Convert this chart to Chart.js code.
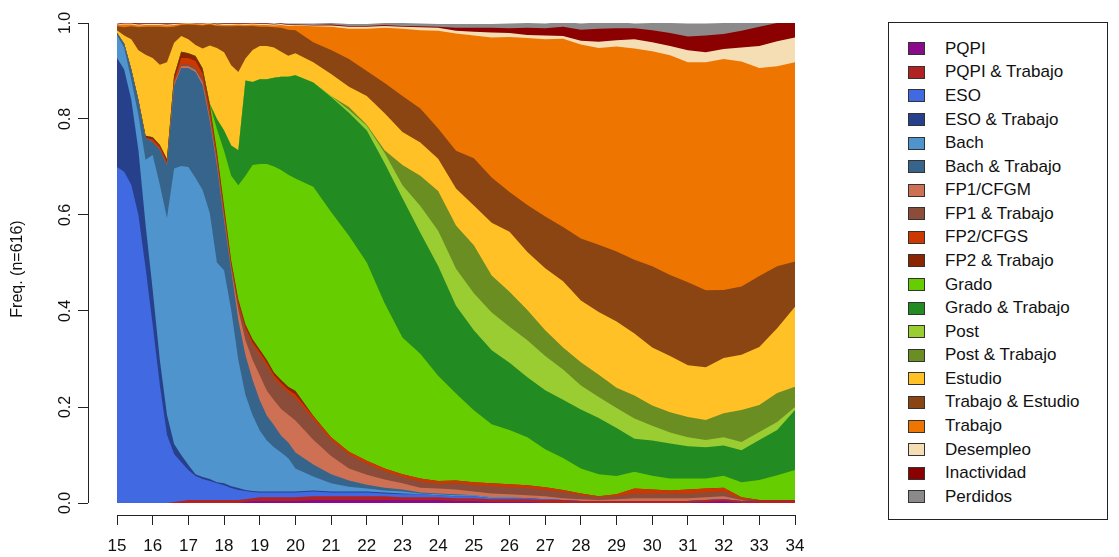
<!DOCTYPE html>
<html>
<head>
<meta charset="utf-8">
<title>Distribución de estados</title>
<script src="https://cdn.jsdelivr.net/npm/chart.js@4.4.0/dist/chart.umd.min.js"></script>
<style>
  body { margin: 0; background: #fff; font-family: "Liberation Sans", Arial, sans-serif; }
  #wrap { position: relative; width: 1119px; height: 557px; }
  #plot { position: absolute; left: 0; top: 0; width: 825px; height: 557px; }
  #legend {
    position: absolute; left: 888px; top: 22px; width: 220px; height: 498px;
    box-sizing: border-box; border: 1px solid #222; padding-top: 14px;
  }
  #legend .item { display: flex; align-items: center; height: 23.58px; font-size: 17px; color: #111; }
  #legend .sw { width: 17px; height: 13px; margin-left: 19px; margin-right: 20px; box-sizing: border-box; border: 1px solid #333; }
</style>
</head>
<body>
<div id="wrap">
  <div id="plot"><canvas id="c"></canvas></div>
  <div id="legend"></div>
</div>
<script>
// edad (años), de 15 a 34
const ages = [15, 15.2, 15.4, 15.6, 15.8, 16, 16.2, 16.4, 16.6, 16.8,
  17, 17.2, 17.4, 17.6, 17.8, 18, 18.2, 18.4, 18.6, 18.8,
  19, 19.2, 19.4, 19.6, 19.8, 20, 20.5, 21, 21.5, 22,
  22.5, 23, 23.5, 24, 24.5, 25, 25.5, 26, 26.5, 27,
  27.5, 28, 28.5, 29, 29.5, 30, 30.5, 31, 31.5, 32,
  32.5, 33, 33.5, 34];

const states = ["PQPI", "PQPI & Trabajo", "ESO", "ESO & Trabajo", "Bach", "Bach & Trabajo",
  "FP1/CFGM", "FP1 & Trabajo", "FP2/CFGS", "FP2 & Trabajo", "Grado", "Grado & Trabajo",
  "Post", "Post & Trabajo", "Estudio", "Trabajo & Estudio", "Trabajo", "Desempleo",
  "Inactividad", "Perdidos"];

const colors = ["#8B0A8B", "#B22222", "#4169E1", "#27408B", "#4F94CD", "#36648B",
  "#CD7054", "#8B4C39", "#CD3700", "#8B2500", "#66CD00", "#228B22",
  "#9ACD32", "#6B8E23", "#FFC125", "#8B4513", "#EE7600", "#F5DEB3",
  "#8B0000", "#8B8989"];

// proporción de cada estado en cada edad
const pqpi = [0,0,0,0,0,0,0,0,0,0, 0,0,0,0,0,0,0,0,.002,.004,
  .004,.004,.004,.004,.004,.004,.006,.006,.006,.006, .006,.006,.006,.006,.004,.004,.002,.002,.002,0,
  0,0,0,0,0,0,0,0,.002,.004, 0,0,0,0];
const pqpiTrab = [0,0,0,0,0,0,0,0,.002,.004, .006,.006,.006,.006,.006,.006,.006,.006,.006,.006,
  .008,.008,.008,.008,.008,.008,.008,.008,.008,.008, .008,.006,.006,.006,.006,.006,.006,.006,.006,.006,
  .006,.004,.004,.004,.004,.004,.004,.004,.004,.004, .004,.006,.006,.006];
const eso = [.700,.690,.663,.600,.490,.371,.246,.142,.100,.081, .063,.050,.044,.040,.035,.031,.025,.021,.017,.013,
  .010,.010,.010,.010,.010,.010,.010,.008,.008,.008, .006,.006,.006,.004,.004,.004,.002,.002,.002,.002,
  0,0,0,0,0,0,0,0,0,0, 0,0,0,0];
const esoTrab = [.227,.213,.177,.135,.090,.073,.052,.042,.021,.015, .010,.004,.004,.004,.002,.004,.004,.004,.002,.002,
  .002,.002,.002,.002,.002,.002,.002,.002,.002,.002, .002,.002,0,0,0,0,0,0,0,0,
  0,0,0,0,0,0,0,0,0,0, 0,0,0,0];
const bach = [.048,.046,.042,.073,.135,.281,.365,.410,.574,.602, .621,.617,.598,.554,.458,.444,.367,.267,.198,.158,
  .127,.106,.092,.081,.069,.048,.029,.017,.010,.006, .004,.004,.002,.002,.002,.002,.002,.002,0,0,
  0,0,0,0,0,0,0,0,0,0, 0,0,0,0];
const bachTrab = [.004,.008,.021,.031,.046,.027,.073,.110,.173,.204, .206,.221,.219,.192,.202,.104,.083,.083,.083,.073,
  .063,.052,.046,.035,.033,.033,.025,.019,.013,.008, .006,.004,.002,.002,.002,0,0,0,0,0,
  0,0,0,0,0,0,0,0,0,0, 0,0,0,0];
const fp1 = [0,0,0,0,0,0,0,0,.004,.004, .004,.004,.006,.006,.006,.006,.004,.021,.031,.042,
  .052,.052,.052,.056,.058,.067,.052,.038,.025,.021, .017,.013,.010,.010,.010,.008,.008,.006,.006,.006,
  .004,.004,.002,.004,.006,.006,.006,.006,.006,.006, .002,0,0,0];
const fp1Trab = [0,0,0,0,0,0,0,0,0,.004, .004,.006,.008,.008,.008,.006,.004,.010,.021,.031,
  .042,.052,.046,.048,.046,.046,.042,.033,.029,.023, .017,.013,.013,.010,.013,.013,.015,.015,.015,.013,
  .013,.008,.006,.006,.010,.010,.010,.010,.010,.010, .002,0,0,0];
const fp2 = [0,0,0,0,0,.006,.006,.006,.008,.013, .013,.013,.010,.010,.008,.008,.006,.006,.006,.006,
  .006,.006,.006,.006,.006,.008,.006,.006,.006,.006, .006,.006,.006,.006,.006,.006,.006,.006,.006,.006,
  .004,.004,.002,.004,.010,.008,.006,.008,.008,.008, .004,0,0,0];
const fp2Trab = [0,0,0,0,.004,.004,.004,.006,.008,.013, .010,.010,.010,.010,.008,.010,.006,.006,.006,.006,
  .006,.006,.006,.006,.006,.008,.002,0,0,0, 0,0,0,0,0,0,0,0,0,0,
  0,0,0,0,0,0,0,0,0,0, 0,0,0,0];
const grado = [0,0,0,0,0,0,0,0,0,0, 0,0,0,.002,.046,.115,.177,.238,.310,.363,
  .386,.408,.429,.438,.442,.442,.477,.469,.450,.413, .344,.285,.260,.219,.181,.150,.123,.113,.100,.079,
  .067,.052,.046,.038,.035,.029,.025,.023,.021,.025, .031,.042,.052,.063];
const gradoTrab = [0,0,0,0,0,0,0,0,0,0, 0,0,0,0,.021,.042,.063,.073,.198,.173,
  .177,.177,.185,.194,.204,.215,.217,.240,.256,.275, .292,.290,.252,.229,.183,.167,.154,.140,.125,.123,
  .121,.123,.117,.100,.069,.073,.073,.067,.065,.063, .067,.083,.094,.125];
const post = [0,0,0,0,0,0,0,0,0,0, 0,0,0,0,0,0,0,0,0,0,
  0,0,0,0,0,0,0,.002,.006,.010, .021,.027,.056,.073,.077,.077,.079,.075,.077,.071,
  .063,.050,.044,.042,.042,.031,.023,.019,.015,.017, .017,.017,.017,.006];
const postTrab = [0,0,0,0,0,0,0,0,0,0, 0,0,0,0,0,0,0,0,0,0,
  0,0,0,0,0,0,0,0,.006,.002, .006,.042,.063,.083,.090,.100,.077,.073,.063,.054,
  .046,.048,.046,.042,.048,.042,.042,.042,.042,.050, .067,.056,.060,.042];
const estudio = [.006,.017,.063,.104,.169,.165,.167,.202,.069,.033, .029,.023,.042,.121,.148,.163,.167,.163,.046,.067,
  .069,.069,.063,.052,.044,.046,.042,.046,.042,.060, .077,.069,.069,.067,.077,.083,.110,.125,.121,.129,
  .138,.129,.131,.138,.129,.121,.117,.108,.110,.115, .115,.121,.135,.167];
const trabEstudio = [.008,.017,.027,.048,.058,.065,.079,.073,.033,.023, .031,.042,.048,.044,.046,.054,.081,.096,.067,.050,
  .040,.040,.042,.050,.054,.048,.042,.050,.058,.052, .063,.075,.071,.063,.079,.098,.094,.083,.098,.108,
  .113,.129,.140,.146,.154,.169,.169,.173,.160,.142, .142,.148,.129,.094];
const trabajo = [.003,.006,.004,.004,.004,.004,.004,.004,.004,.002, .002,.002,.002,.002,.002,.003,.003,.003,.003,.003,
  .004,.004,.004,.006,.008,.010,.033,.048,.063,.088, .115,.140,.163,.204,.244,.256,.292,.323,.348,.369,
  .392,.404,.410,.427,.440,.448,.458,.458,.475,.481, .469,.433,.417,.415];
const desempleo = [.001,.002,.002,.002,.002,.002,.002,.002,.002,.001, .001,.001,.002,.001,.001,.002,.002,.001,.002,.002,
  .002,.002,.002,.002,.002,.001,.002,.003,.004,.004, .004,.004,.006,.006,.006,.008,.010,.008,.006,.008,
  .006,.008,.013,.013,.019,.019,.019,.025,.021,.021, .029,.046,.052,.052];
const inactividad = [.001,.001,.001,.002,.001,.001,.001,.002,.001,.001, 0,.001,.001,0,.001,.001,.001,.001,.001,.001,
  .001,.001,.001,.001,.001,.001,.001,.002,.002,.002, .002,.002,.002,.002,.006,.008,.010,.010,.015,.015,
  .019,.023,.027,.025,.023,.025,.027,.029,.035,.031, .035,.040,.038,.031];
const perdidos = [.001,.001,.001,.001,.001,.001,.001,.001,.001,0, 0,0,0,0,.002,.002,.001,.001,.001,.001,
  .001,.001,.001,.001,.002,.002,.003,.003,.004,.004, .004,.006,.006,.006,.008,.008,.008,.010,.010,.010,
  .010,.013,.013,.013,.010,.015,.021,.027,.025,.023, .017,.008,0,0];

const series = [pqpi, pqpiTrab, eso, esoTrab, bach, bachTrab, fp1, fp1Trab, fp2, fp2Trab,
  grado, gradoTrab, post, postTrab, estudio, trabEstudio, trabajo, desempleo, inactividad, perdidos];

const fontFamily = '"Liberation Sans", Arial, sans-serif';

// each layer fills down to zero; upper layers are painted first, so the
// lower ones cover them and no seams show between bands
const datasets = states.map((name, i) => ({
  label: name,
  data: ages.map((a, j) => ({ x: a, y: series[i][j] })),
  backgroundColor: colors[i],
  borderColor: colors[i],
  borderWidth: 0,
  fill: 'origin',
  pointRadius: 0,
  tension: 0
}));

// R-style axis lines that stop at the first and last tick
const axisLines = {
  id: 'axisLines',
  afterDraw(chart) {
    const { ctx, chartArea, scales } = chart;
    const x = scales.x, y = scales.y;
    ctx.save();
    ctx.strokeStyle = '#222';
    ctx.lineWidth = 1;
    ctx.beginPath();
    const bx = Math.round(chartArea.left) + 0.5;
    ctx.moveTo(bx, y.getPixelForValue(0));
    ctx.lineTo(bx, y.getPixelForValue(1));
    const by = Math.round(chartArea.bottom) + 0.5;
    ctx.moveTo(x.getPixelForValue(15), by);
    ctx.lineTo(x.getPixelForValue(34), by);
    ctx.stroke();
    ctx.restore();
  }
};

const chart = new Chart(document.getElementById('c'), {
  type: 'line',
  data: { datasets },
  options: {
    responsive: true,
    maintainAspectRatio: false,
    animation: false,
    layout: { padding: { top: 23, right: 30, bottom: 0, left: 0 } },
    plugins: { legend: { display: false }, tooltip: { enabled: false } },
    scales: {
      x: {
        type: 'linear',
        min: 14.187,
        max: 34,
        afterFit: s => { s.height = 42; },
        border: { display: false },
        grid: { drawOnChartArea: false, drawTicks: true, tickLength: 10, tickColor: '#222' },
        ticks: {
          stepSize: 1, includeBounds: false, autoSkip: false, maxRotation: 0,
          padding: 11, color: '#111', font: { size: 17, family: fontFamily }
        }
      },
      y: {
        stacked: true,
        min: -0.025,
        max: 1,
        afterFit: s => { s.width = 88; },
        border: { display: false },
        grid: { drawOnChartArea: false, drawTicks: true, tickLength: 10, tickColor: '#222' },
        ticks: {
          stepSize: 0.2, includeBounds: false, minRotation: 90, maxRotation: 90,
          crossAlign: 'center', padding: 1, color: '#111',
          font: { size: 16, family: fontFamily },
          callback: v => v.toFixed(1)
        },
        title: {
          display: true, text: 'Freq. (n=616)', color: '#111',
          font: { size: 16, family: fontFamily },
          padding: { top: 8, bottom: 0 }
        }
      }
    }
  },
  plugins: [axisLines]
});

// legend box on the right, one row per state
const legend = document.getElementById('legend');
chart.data.datasets.forEach(ds => {
  const row = document.createElement('div');
  row.className = 'item';
  const sw = document.createElement('span');
  sw.className = 'sw';
  sw.style.background = ds.backgroundColor;
  const txt = document.createElement('span');
  txt.textContent = ds.label;
  row.appendChild(sw);
  row.appendChild(txt);
  legend.appendChild(row);
});
</script>
</body>
</html>
